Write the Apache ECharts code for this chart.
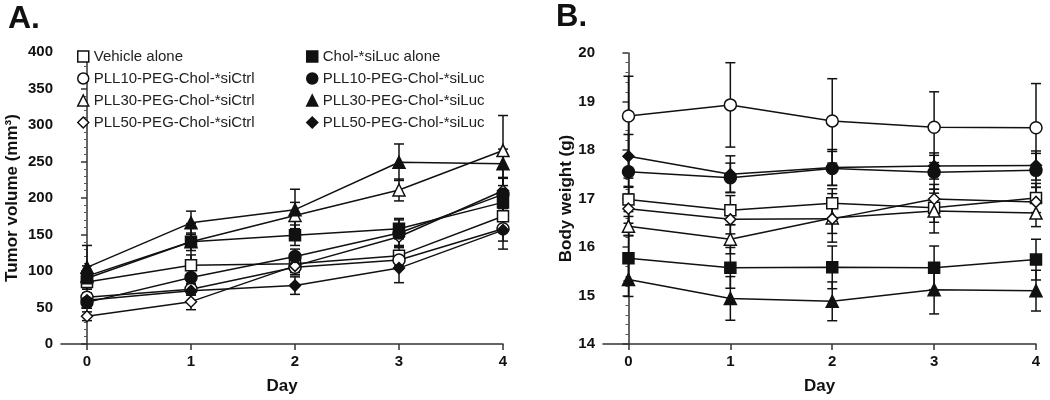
<!DOCTYPE html>
<html>
<head>
<meta charset="utf-8">
<script src="https://cdn.jsdelivr.net/npm/echarts@6/dist/echarts.min.js"></script>
<style>html,body{margin:0;padding:0;background:#fff}#c{width:1050px;height:400px}</style>
</head>
<body>
<div id="c"></div>
<script>
// ---- data ----
const days = [0, 1, 2, 3, 4];
const groupNames = [
  'Vehicle alone', 'PLL10-PEG-Chol-*siCtrl', 'PLL30-PEG-Chol-*siCtrl', 'PLL50-PEG-Chol-*siCtrl',
  'Chol-*siLuc alone', 'PLL10-PEG-Chol-*siLuc', 'PLL30-PEG-Chol-*siLuc', 'PLL50-PEG-Chol-*siLuc'
];
// Panel A: tumor volume (mm3)
const tumorVehicle   = [85, 108, 110, 121, 175];
const tumorPLL10Ctrl = [64, 75, 105, 115, 158];
const tumorPLL30Ctrl = [93, 140, 176, 211, 265];
const tumorPLL50Ctrl = [38, 58, 107, 147, 210];
const tumorChol      = [90, 140, 149, 158, 194];
const tumorPLL10Luc  = [57, 91, 120, 152, 205];
const tumorPLL30Luc  = [105, 166, 184, 249, 247];
const tumorPLL50Luc  = [60, 73, 80, 104, 156];
const tumorErrVehicle   = [10, 14, 12, 14, 20];
const tumorErrPLL10Ctrl = [6, 8, 10, 12, 28];
const tumorErrPLL30Ctrl = [14, 25, 18, 15, 48];
const tumorErrPLL50Ctrl = [6, 11, 12, 15, 18];
const tumorErrChol      = [10, 12, 14, 14, 34];
const tumorErrPLL10Luc  = [8, 10, 10, 18, 22];
const tumorErrPLL30Luc  = [30, 16, 28, 25, 20];
const tumorErrPLL50Luc  = [8, 6, 12, 20, 15];
// Panel B: body weight (g)
const bwVehicle   = [16.98, 16.76, 16.90, 16.81, 17.01];
const bwPLL10Ctrl = [18.70, 18.93, 18.60, 18.47, 18.46];
const bwPLL30Ctrl = [16.43, 16.16, 16.60, 16.74, 16.70];
const bwPLL50Ctrl = [16.79, 16.57, 16.58, 16.99, 16.93];
const bwChol      = [15.77, 15.57, 15.58, 15.57, 15.74];
const bwPLL10Luc  = [17.55, 17.43, 17.62, 17.54, 17.58];
const bwPLL30Luc  = [15.33, 14.94, 14.88, 15.12, 15.10];
const bwPLL50Luc  = [17.87, 17.50, 17.64, 17.67, 17.68];
const bwErrVehicle   = [0.25, 0.30, 0.30, 0.30, 0.30];
const bwErrPLL10Ctrl = [0.82, 0.87, 0.87, 0.73, 0.91];
const bwErrPLL30Ctrl = [0.20, 0.30, 0.50, 0.45, 0.28];
const bwErrPLL50Ctrl = [0.30, 0.30, 0.30, 0.30, 0.30];
const bwErrChol      = [0.47, 0.42, 0.44, 0.45, 0.42];
const bwErrPLL10Luc  = [0.30, 0.30, 0.35, 0.35, 0.35];
const bwErrPLL30Luc  = [0.35, 0.45, 0.40, 0.50, 0.42];
const bwErrPLL50Luc  = [0.45, 0.38, 0.37, 0.27, 0.30];
const tumorTicks = [0, 50, 100, 150, 200, 250, 300, 350, 400];
const bwTicks = [14, 15, 16, 17, 18, 19, 20];

// ---- build ----
const symbols = ['rect', 'circle', 'triangle', 'diamond', 'rect', 'circle', 'triangle', 'diamond'];
const symSizes = [11, 12, 12, 11, 11, 12, 12, 11];
const filled = [false, false, false, false, true, true, true, true];
const tumorVals = [tumorVehicle, tumorPLL10Ctrl, tumorPLL30Ctrl, tumorPLL50Ctrl, tumorChol, tumorPLL10Luc, tumorPLL30Luc, tumorPLL50Luc];
const tumorErrs = [tumorErrVehicle, tumorErrPLL10Ctrl, tumorErrPLL30Ctrl, tumorErrPLL50Ctrl, tumorErrChol, tumorErrPLL10Luc, tumorErrPLL30Luc, tumorErrPLL50Luc];
const bwVals = [bwVehicle, bwPLL10Ctrl, bwPLL30Ctrl, bwPLL50Ctrl, bwChol, bwPLL10Luc, bwPLL30Luc, bwPLL50Luc];
const bwErrs = [bwErrVehicle, bwErrPLL10Ctrl, bwErrPLL30Ctrl, bwErrPLL50Ctrl, bwErrChol, bwErrPLL10Luc, bwErrPLL30Luc, bwErrPLL50Luc];

const FONT = 'Liberation Sans, Arial, sans-serif';
const INK = '#111';

function renderErr(params, api) {
  const x = api.value(0), y = api.value(1), e = api.value(2);
  const t = api.coord([x, y + e]), b = api.coord([x, y - e]);
  const hw = 5;
  const st = { stroke: INK, lineWidth: 1.5 };
  return {
    type: 'group', children: [
      { type: 'line', shape: { x1: t[0], y1: t[1], x2: b[0], y2: b[1] }, style: st },
      { type: 'line', shape: { x1: t[0] - hw, y1: t[1], x2: t[0] + hw, y2: t[1] }, style: st },
      { type: 'line', shape: { x1: b[0] - hw, y1: b[1], x2: b[0] + hw, y2: b[1] }, style: st }
    ]
  };
}

const series = [];
function addPanel(vals, errs, idx) {
  const errData = [];
  vals.forEach((arr, s) => arr.forEach((v, i) => errData.push([days[i], v, errs[s][i]])));
  series.push({
    type: 'custom', xAxisIndex: idx, yAxisIndex: idx, renderItem: renderErr,
    data: errData, encode: { x: 0, y: 1 }, z: 1, silent: true, clip: false
  });
  vals.forEach((arr, s) => {
    series.push({
      type: 'line', name: groupNames[s], xAxisIndex: idx, yAxisIndex: idx,
      data: arr.map((v, i) => [days[i], v]),
      symbol: symbols[s], symbolSize: symSizes[s], showSymbol: true, z: 3,
      lineStyle: { color: INK, width: 1.5 },
      itemStyle: { color: filled[s] ? INK : '#fff', borderColor: INK, borderWidth: 1.5 },
      emphasis: { disabled: true }, animation: false
    });
  });
}
addPanel(tumorVals, tumorErrs, 0);
addPanel(bwVals, bwErrs, 1);

function legendItems(list) {
  return list.map(s => ({
    name: groupNames[s], icon: symbols[s],
    itemStyle: { color: filled[s] ? INK : '#fff', borderColor: INK, borderWidth: 1.5 }
  }));
}
const legendText = { fontFamily: FONT, fontSize: 15, color: '#222' };

const axisCommon = {
  axisLine: { lineStyle: { color: '#333', width: 1.5 } },
  axisTick: { lineStyle: { color: '#333', width: 1.5 }, length: 6 },
  splitLine: { show: false },
  axisLabel: { fontFamily: FONT, fontWeight: 'bold', fontSize: 15, color: INK }
};

function xAxis(gi) {
  return Object.assign({}, axisCommon, {
    type: 'value', gridIndex: gi, min: -0.25, max: 4,
    name: 'Day', nameLocation: 'middle', nameGap: 34,
    nameTextStyle: { fontFamily: FONT, fontWeight: 'bold', fontSize: 17, color: INK },
    axisTick: { lineStyle: { color: '#333', width: 1.5 }, length: 6, customValues: days },
    axisLabel: { fontFamily: FONT, fontWeight: 'bold', fontSize: 15, color: INK, margin: 10, customValues: days }
  });
}
function yAxis(gi, ticks, name, gap) {
  return Object.assign({}, axisCommon, {
    type: 'value', gridIndex: gi, min: ticks[0], max: ticks[ticks.length - 1],
    interval: ticks[1] - ticks[0],
    name: name, nameLocation: 'middle', nameGap: gap, nameRotate: 90,
    nameTextStyle: { fontFamily: FONT, fontWeight: 'bold', fontSize: 17, color: INK },
    minorTick: { show: true, splitNumber: 5, length: 3, lineStyle: { color: '#555', width: 1 } },
    axisLabel: { fontFamily: FONT, fontWeight: 'bold', fontSize: 15, color: INK, margin: 8 }
  });
}

const option = {
  animation: false,
  backgroundColor: '#fff',
  title: [
    { text: 'A.', left: 3, top: -2, textStyle: { fontFamily: FONT, fontWeight: 'bold', fontSize: 32, color: INK } },
    { text: 'B.', left: 551, top: -3, textStyle: { fontFamily: FONT, fontWeight: 'bold', fontSize: 31, color: INK } }
  ],
  legend: [
    { orient: 'vertical', left: 72, top: 44, itemWidth: 11, itemHeight: 11, itemGap: 7,
      data: legendItems([0, 1, 2, 3]), textStyle: legendText, selectedMode: false },
    { orient: 'vertical', left: 301, top: 44, itemWidth: 11, itemHeight: 11, itemGap: 7,
      data: legendItems([4, 5, 6, 7]), textStyle: legendText, selectedMode: false }
  ],
  grid: [
    { left: 61, right: 547, top: 52, bottom: 53 },
    { left: 603, right: 14, top: 53, bottom: 53 }
  ],
  xAxis: [xAxis(0), xAxis(1)],
  yAxis: [yAxis(0, tumorTicks, 'Tumor volume (mm³)', 40), yAxis(1, bwTicks, 'Body weight (g)', 28)],
  series: series
};
echarts.init(document.getElementById('c')).setOption(option);
</script>
</body>
</html>
